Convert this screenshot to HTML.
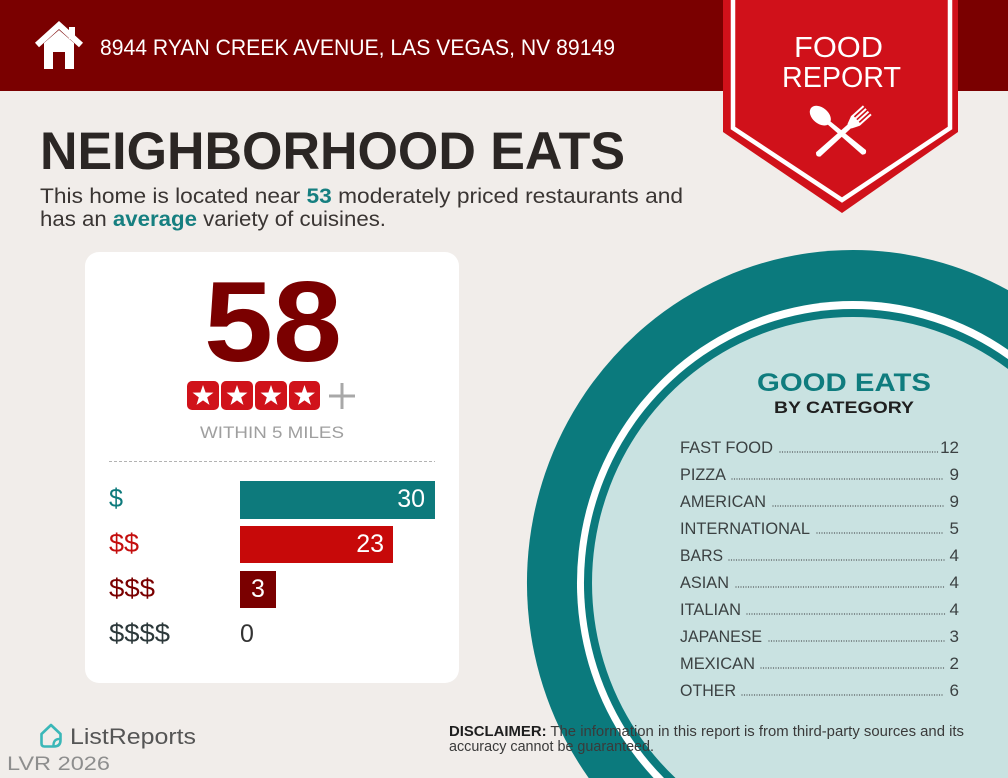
<!DOCTYPE html>
<html><head><meta charset="utf-8"><style>
html,body{margin:0;padding:0;background:#f1edea;width:1008px;height:778px;overflow:hidden;}
svg{display:block;}
text{font-family:"Liberation Sans",sans-serif;}
</style></head><body>
<svg width="1008" height="778" viewBox="0 0 1008 778" xmlns="http://www.w3.org/2000/svg">
<defs>
<polygon id="star" points="0,-11 2.59,-3.56 10.46,-3.4 4.18,1.36 6.47,8.9 0,4.4 -6.47,8.9 -4.18,1.36 -10.46,-3.4 -2.59,-3.56" fill="#fff"/>
</defs>
<rect x="0" y="0" width="1008" height="778" fill="#f1edea"/>
<!-- header -->
<rect x="0" y="0" width="1008" height="91" fill="#7a0000"/>
<!-- house icon -->
<rect x="69" y="27" width="6" height="12" fill="#fff"/>
<polyline points="37,45 59,25 81,45" fill="none" stroke="#fff" stroke-width="6" stroke-linejoin="miter"/>
<path d="M44,43 L59,30 L74,43 L74,69 L65,69 L65,52 L53,52 L53,69 L44,69 Z" fill="#fff"/>
<text x="100" y="55" font-size="22" fill="#fff" textLength="515" lengthAdjust="spacingAndGlyphs">8944 RYAN CREEK AVENUE, LAS VEGAS, NV 89149</text>

<!-- badge -->
<polygon points="723,0 958,0 958,132 842,213 723,132" fill="#d0111a"/>
<polyline points="733,0 733,128 842,200 950,128 950,0" fill="none" stroke="#fff" stroke-width="4.5"/>
<text x="838.5" y="57" font-size="29" fill="#fff" text-anchor="middle" textLength="89" lengthAdjust="spacingAndGlyphs">FOOD</text>
<text x="841.5" y="87" font-size="29" fill="#fff" text-anchor="middle" textLength="119" lengthAdjust="spacingAndGlyphs">REPORT</text>
<!-- spoon -->
<g transform="translate(841,133) rotate(40)">
  <ellipse cx="-27" cy="0" rx="12" ry="8" fill="#fff"/>
  <path d="M-18,-2 L30,-3 Q34,0 30,3 L-18,2 Z" fill="#fff"/>
</g>
<!-- fork -->
<g transform="translate(842,133) rotate(-42)">
  <path d="M-32,-3 Q-36,0 -32,3 L12,2.5 L12,-2.5 Z" fill="#fff"/>
  <path d="M10,-3 L18,-6.5 L20,-6.5 L20,6.5 L18,6.5 L10,3 Z" fill="#fff"/>
  <rect x="19" y="-6.5" width="15" height="2" fill="#fff"/>
  <rect x="19" y="-2.8" width="15" height="2" fill="#fff"/>
  <rect x="19" y="0.8" width="15" height="2" fill="#fff"/>
  <rect x="19" y="4.5" width="15" height="2" fill="#fff"/>
</g>

<!-- title -->
<text x="40" y="169" font-size="53" font-weight="bold" fill="#2b2624" textLength="585" lengthAdjust="spacingAndGlyphs">NEIGHBORHOOD EATS</text>
<text x="40" y="203" font-size="21" fill="#3a3533" textLength="643" lengthAdjust="spacingAndGlyphs">This home is located near <tspan font-weight="bold" fill="#167f80">53</tspan> moderately priced restaurants and</text>
<text x="40" y="226" font-size="21" fill="#3a3533" textLength="346" lengthAdjust="spacingAndGlyphs">has an <tspan font-weight="bold" fill="#167f80">average</tspan> variety of cuisines.</text>

<!-- card -->
<rect x="85" y="252" width="374" height="431" rx="14" fill="#fff"/>
<text x="273" y="361" font-size="114" font-weight="bold" fill="#7a0000" text-anchor="middle" textLength="138" lengthAdjust="spacingAndGlyphs">58</text>
<rect x="187" y="381" width="32" height="29" rx="5" fill="#d0121a"/>
<rect x="221" y="381" width="32" height="29" rx="5" fill="#d0121a"/>
<rect x="255" y="381" width="32" height="29" rx="5" fill="#d0121a"/>
<rect x="289" y="381" width="31" height="29" rx="5" fill="#d0121a"/>
<use href="#star" x="203" y="396"/>
<use href="#star" x="237" y="396"/>
<use href="#star" x="271" y="396"/>
<use href="#star" x="304.5" y="396"/>
<line x1="329" y1="396" x2="355" y2="396" stroke="#a8a8a8" stroke-width="3"/>
<line x1="342" y1="383" x2="342" y2="409" stroke="#a8a8a8" stroke-width="3"/>
<text x="272" y="438" font-size="17" fill="#9f9f9f" text-anchor="middle" textLength="144" lengthAdjust="spacingAndGlyphs">WITHIN 5 MILES</text>
<line x1="109" y1="461.5" x2="435" y2="461.5" stroke="#b3b3b3" stroke-width="1" stroke-dasharray="3 2"/>

<rect x="240" y="481" width="195" height="38" fill="#0d7a7c"/>
<rect x="240" y="526" width="153" height="37" fill="#c70909"/>
<rect x="240" y="571" width="36" height="37" fill="#7a0000"/>
<text x="425" y="507" font-size="25" fill="#fff" text-anchor="end">30</text>
<text x="384" y="552" font-size="25" fill="#fff" text-anchor="end">23</text>
<text x="258" y="597" font-size="25" fill="#fff" text-anchor="middle">3</text>
<text x="240" y="642" font-size="25" fill="#333">0</text>
<text x="109" y="507" font-size="26" fill="#0d7a7c" textLength="14" lengthAdjust="spacingAndGlyphs">$</text>
<text x="109" y="552" font-size="26" fill="#c40e0e" textLength="30" lengthAdjust="spacingAndGlyphs">$$</text>
<text x="109" y="597" font-size="26" fill="#7a0000" textLength="46" lengthAdjust="spacingAndGlyphs">$$$</text>
<text x="109" y="642" font-size="26" fill="#2d393b" textLength="61" lengthAdjust="spacingAndGlyphs">$$$$</text>

<!-- plate (clipped to frame) -->
<path d="M588.7,778 A326,333 0 0 1 853,250 A326,333 0 0 1 1008,290.1 L1008,778 Z" fill="#0b7a7d"/>
<path d="M653.6,778 A276,282 0 0 1 853,301 A276,282 0 0 1 1008,349.7 L1008,778 Z" fill="#fff"/>
<path d="M664,778 A269,274 0 0 1 853,309 A269,274 0 0 1 1008,359.1 L1008,778 Z" fill="#0b7a7d"/>
<path d="M675.5,778 A261,266 0 0 1 853,317 A261,266 0 0 1 1008,369 L1008,778 Z" fill="#c9e2e1"/>

<text x="844" y="391" font-size="25" font-weight="bold" fill="#0f7c7e" text-anchor="middle" textLength="174" lengthAdjust="spacingAndGlyphs">GOOD EATS</text>
<text x="844" y="413" font-size="17" font-weight="bold" fill="#1f1f1f" text-anchor="middle" textLength="140" lengthAdjust="spacingAndGlyphs">BY CATEGORY</text>

<g font-size="17" fill="#3b4142">
<text x="680" y="453" textLength="93" lengthAdjust="spacingAndGlyphs">FAST FOOD</text>
<text x="680" y="480" textLength="46" lengthAdjust="spacingAndGlyphs">PIZZA</text>
<text x="680" y="507" textLength="86" lengthAdjust="spacingAndGlyphs">AMERICAN</text>
<text x="680" y="534" textLength="130" lengthAdjust="spacingAndGlyphs">INTERNATIONAL</text>
<text x="680" y="561" textLength="43" lengthAdjust="spacingAndGlyphs">BARS</text>
<text x="680" y="588" textLength="49" lengthAdjust="spacingAndGlyphs">ASIAN</text>
<text x="680" y="615" textLength="61" lengthAdjust="spacingAndGlyphs">ITALIAN</text>
<text x="680" y="642" textLength="82" lengthAdjust="spacingAndGlyphs">JAPANESE</text>
<text x="680" y="669" textLength="75" lengthAdjust="spacingAndGlyphs">MEXICAN</text>
<text x="680" y="696" textLength="56" lengthAdjust="spacingAndGlyphs">OTHER</text>
</g>
<g font-size="17" fill="#3b4142" text-anchor="end">
<text x="959" y="453">12</text>
<text x="959" y="480">9</text>
<text x="959" y="507">9</text>
<text x="959" y="534">5</text>
<text x="959" y="561">4</text>
<text x="959" y="588">4</text>
<text x="959" y="615">4</text>
<text x="959" y="642">3</text>
<text x="959" y="669">2</text>
<text x="959" y="696">6</text>
</g>
<g stroke="#4a4f50" stroke-width="1.3" stroke-linecap="round" stroke-dasharray="0 2.5">
<line x1="780" y1="452" x2="939" y2="452"/>
<line x1="732" y1="479" x2="944" y2="479"/>
<line x1="773" y1="506" x2="944" y2="506"/>
<line x1="817" y1="533" x2="944" y2="533"/>
<line x1="729" y1="560" x2="945" y2="560"/>
<line x1="736" y1="587" x2="945" y2="587"/>
<line x1="747" y1="614" x2="945" y2="614"/>
<line x1="769" y1="641" x2="945" y2="641"/>
<line x1="761" y1="668" x2="944" y2="668"/>
<line x1="742" y1="695" x2="944" y2="695"/>
</g>

<!-- disclaimer -->
<text x="449" y="736" font-size="14.5" fill="#3a3a3a" textLength="515" lengthAdjust="spacingAndGlyphs"><tspan font-weight="bold" fill="#1e1e1e">DISCLAIMER:</tspan> The information in this report is from third-party sources and its</text>
<text x="449" y="751" font-size="14.5" fill="#3a3a3a" textLength="205" lengthAdjust="spacingAndGlyphs">accuracy cannot be guaranteed.</text>

<!-- ListReports logo -->
<path d="M41.5,734 L51,725 L60.5,734 L60.5,740 Q60.5,746.5 54,746.5 L44.5,746.5 Q41.5,746.5 41.5,743.5 Z" fill="none" stroke="#3ab7b8" stroke-width="2.6" stroke-linejoin="round"/>
<path d="M60.5,739 Q53,738.5 53.5,746.5" fill="none" stroke="#3ab7b8" stroke-width="2.4"/>
<text x="70" y="744" font-size="22" fill="#555" textLength="126" lengthAdjust="spacingAndGlyphs">ListReports</text>
<text x="7" y="770" font-size="19" fill="#8e8e8e" textLength="103" lengthAdjust="spacingAndGlyphs">LVR 2026</text>
</svg>
</body></html>
